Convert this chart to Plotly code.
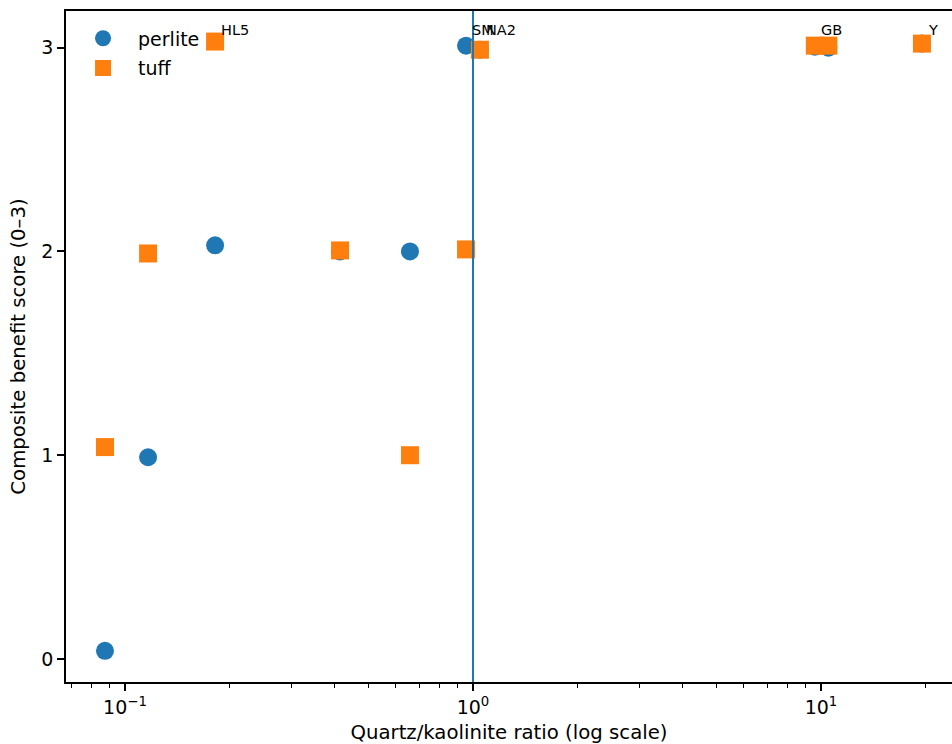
import math
import plotly.graph_objects as go

# Sample quartz/kaolinite ratios (same for perlite and tuff of each sample)
ratio = [0.0876, 0.1165, 0.1815, 0.415, 0.659, 0.955, 1.047, 9.6, 10.5, 19.5]
perlite_score = [0.04, 0.99, 2.03, 2.00, 2.00, 3.01, 2.99, 3.005, 3.0, 3.02]
tuff_score = [1.04, 1.99, 3.03, 2.005, 1.00, 2.01, 2.99, 3.01, 3.01, 3.02]

label_x = [0.1815, 0.955, 1.047, 9.6, 19.5]
label_text = ["HL5", "SM", "NA2", "GB", "Y"]

x_ticks = [0.1, 1, 10]
x_tick_text = ["10<sup>−1</sup>", "10<sup>0</sup>", "10<sup>1</sup>"]
x_minor = [0.07, 0.08, 0.09, 0.2, 0.3, 0.4, 0.5, 0.6, 0.7, 0.8, 0.9,
           2, 3, 4, 5, 6, 7, 8, 9, 20]
y_ticks = [0, 1, 2, 3]

FONT = "DejaVu Sans"
BLUE = "#1f77b4"
ORANGE = "#ff7f0e"

fig = go.Figure()
fig.add_trace(go.Scatter(x=ratio, y=perlite_score, mode="markers", name="perlite",
                         legendgroup="a",
                         marker=dict(symbol="circle", size=18, color=BLUE, line=dict(width=0))))
fig.add_trace(go.Scatter(x=ratio, y=tuff_score, mode="markers", name="tuff",
                         legendgroup="b",
                         marker=dict(symbol="square", size=18, color=ORANGE, line=dict(width=0))))

fig.add_vline(x=1, line=dict(color=BLUE, width=2))

for lx, lt in zip(label_x, label_text):
    fig.add_annotation(x=math.log10(lx), y=3.085, xref="x", yref="y", text=lt, showarrow=False,
                       xanchor="left", yanchor="middle", xshift=5, borderpad=0,
                       font=dict(family=FONT, size=14.5, color="black"))

fig.update_layout(
    width=952, height=744,
    margin=dict(l=66, r=0, t=11, b=62),
    paper_bgcolor="white", plot_bgcolor="white",
    font=dict(family=FONT, size=19, color="black"),
    showlegend=True,
    legend=dict(x=0.0023, y=0.9875, xanchor="left", yanchor="top",
                bgcolor="rgba(255,255,255,0)", font=dict(size=19),
                tracegroupgap=2, itemwidth=60),
    xaxis=dict(type="log", range=[-1.1695, 1.3764],
               tickvals=x_ticks, ticktext=x_tick_text,
               ticks="outside", ticklen=7, tickwidth=1.5, tickcolor="black",
               minor=dict(tickvals=x_minor, ticks="outside", ticklen=4, tickwidth=1.2, tickcolor="black"),
               showline=True, linecolor="black", linewidth=1.5, mirror=True,
               showgrid=False, zeroline=False,
               title=dict(text="Quartz/kaolinite ratio (log scale)", standoff=9,
                          font=dict(size=19.7))),
    yaxis=dict(range=[-0.113, 3.18], tickvals=y_ticks,
               ticks="outside", ticklen=7, tickwidth=1.5, tickcolor="black",
               showline=True, linecolor="black", linewidth=1.5, mirror=False,
               showgrid=False, zeroline=False,
               title=dict(text="Composite benefit score (0–3)", standoff=10,
                          font=dict(size=19.7))),
)

fig.write_html("out.html", config={"displayModeBar": False},
               post_script="document.body.style.margin='0';document.body.style.overflow='hidden';")
